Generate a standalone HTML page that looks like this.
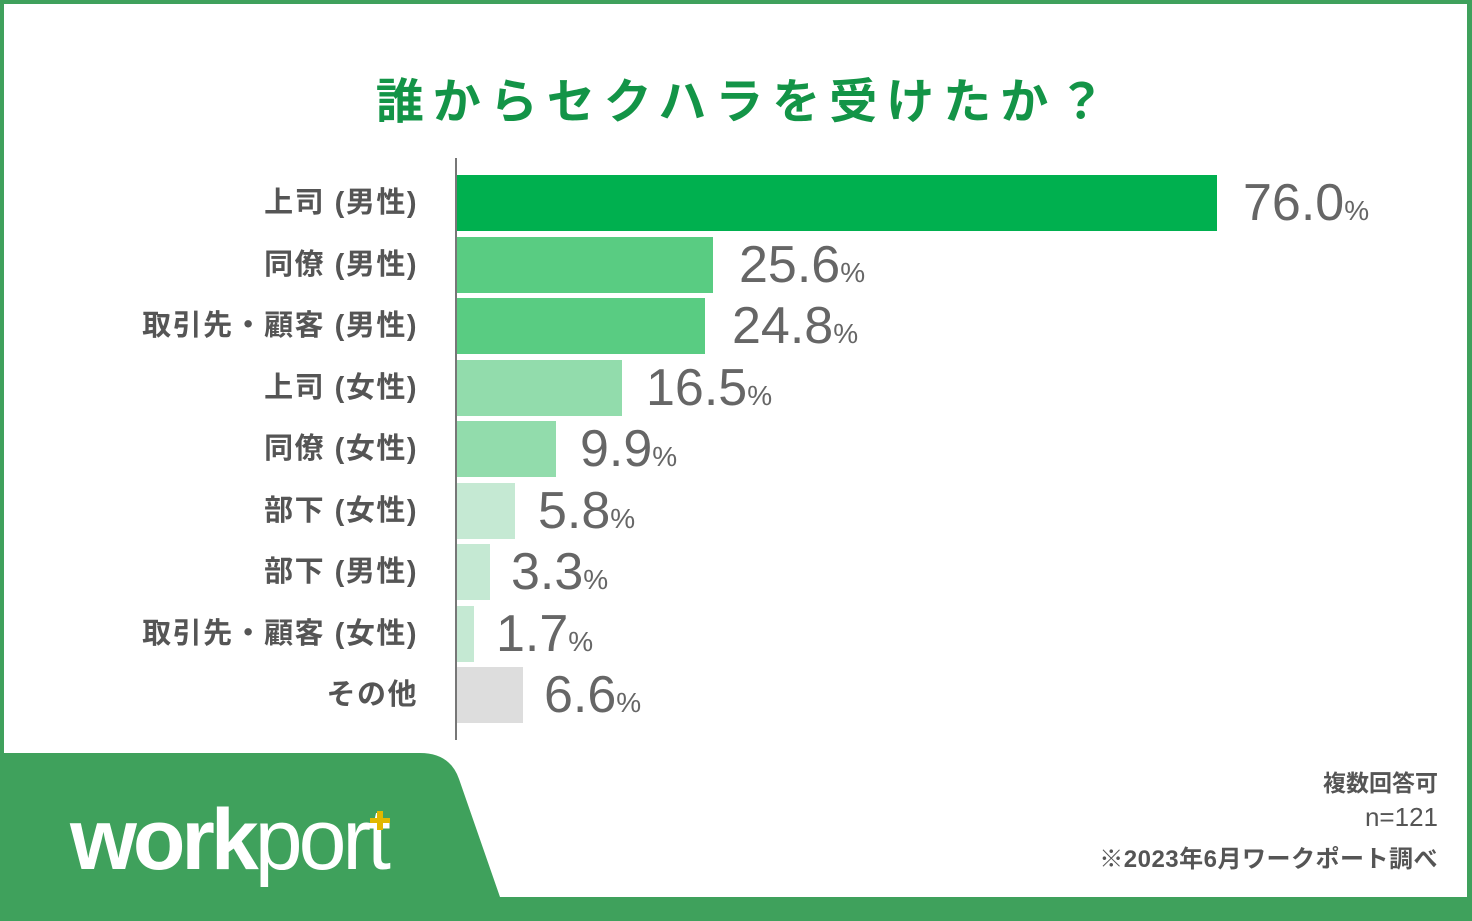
<!DOCTYPE html>
<html><head><meta charset="utf-8"><style>
body{margin:0;width:1472px;height:921px;position:relative;background:#3fa15c;overflow:hidden;font-family:"Liberation Sans","Noto Sans CJK JP",sans-serif}
#w{position:absolute;left:4px;top:4px;width:1463px;height:893px;background:#fff}
.t{position:absolute;left:0;width:1490px;top:62px;text-align:center;font-size:48px;font-weight:bold;color:#139447;letter-spacing:9px}
.lab{position:absolute;right:1054px;font-size:29px;font-weight:bold;color:#555;line-height:56px;white-space:nowrap;letter-spacing:1.5px}
.bar{position:absolute;left:457px;height:56px}
.v{position:absolute;font-family:"Liberation Sans Narrow","Liberation Sans",sans-serif;font-size:52px;color:#666;line-height:56px;white-space:nowrap}
.v span{font-size:28px}
.n{position:absolute;right:34px;color:#555;font-size:23px;font-weight:bold;text-align:right}
</style></head><body>
<div id="w"></div>
<svg style="position:absolute;left:0;top:0" width="1472" height="921"><path d="M0 753 H420 Q450 753 459 779 L500 897 H0 Z" fill="#3fa15c"/><line x1="456" y1="158" x2="456" y2="740" stroke="#777" stroke-width="2"/></svg>
<div class="t">誰からセクハラを受けたか？</div>
<div class="bar" style="top:175px;width:760px;background:#00b04f"></div>
<div class="bar" style="top:237px;width:256px;background:#59cc82"></div>
<div class="bar" style="top:298px;width:248px;background:#59cc82"></div>
<div class="bar" style="top:360px;width:165px;background:#92dcac"></div>
<div class="bar" style="top:421px;width:99px;background:#92dcac"></div>
<div class="bar" style="top:483px;width:58px;background:#c5e9d3"></div>
<div class="bar" style="top:544px;width:33px;background:#c5e9d3"></div>
<div class="bar" style="top:606px;width:17px;background:#c5e9d3"></div>
<div class="bar" style="top:667px;width:66px;background:#dddddd"></div>
<div class="lab" style="top:175px">上司 (男性)</div>
<div class="lab" style="top:237px">同僚 (男性)</div>
<div class="lab" style="top:298px">取引先・顧客 (男性)</div>
<div class="lab" style="top:360px">上司 (女性)</div>
<div class="lab" style="top:421px">同僚 (女性)</div>
<div class="lab" style="top:483px">部下 (女性)</div>
<div class="lab" style="top:544px">部下 (男性)</div>
<div class="lab" style="top:606px">取引先・顧客 (女性)</div>
<div class="lab" style="top:667px">その他</div>
<div class="v" style="top:175px;left:1243px">76.0<span>%</span></div>
<div class="v" style="top:237px;left:739px">25.6<span>%</span></div>
<div class="v" style="top:298px;left:732px">24.8<span>%</span></div>
<div class="v" style="top:360px;left:646px">16.5<span>%</span></div>
<div class="v" style="top:421px;left:580px">9.9<span>%</span></div>
<div class="v" style="top:483px;left:538px">5.8<span>%</span></div>
<div class="v" style="top:544px;left:511px">3.3<span>%</span></div>
<div class="v" style="top:606px;left:496px">1.7<span>%</span></div>
<div class="v" style="top:667px;left:544px">6.6<span>%</span></div>
<div class="n" style="top:764px">複数回答可</div>
<div class="n" style="top:802px;font-weight:normal;font-size:26px">n=121</div>
<div class="n" style="top:839px;font-size:24px;letter-spacing:0.5px">※2023年6月ワークポート調べ</div>
<div style="position:absolute;left:70px;top:790px;color:#fff;font-size:86px;letter-spacing:-4px;line-height:100px;white-space:nowrap"><b>work</b><span style="font-weight:normal">port</span></div>
<div style="position:absolute;left:370px;top:818px;width:20px;height:5px;background:#e0b800"></div>
<div style="position:absolute;left:377px;top:811px;width:6px;height:19px;background:#e0b800"></div>
</body></html>
